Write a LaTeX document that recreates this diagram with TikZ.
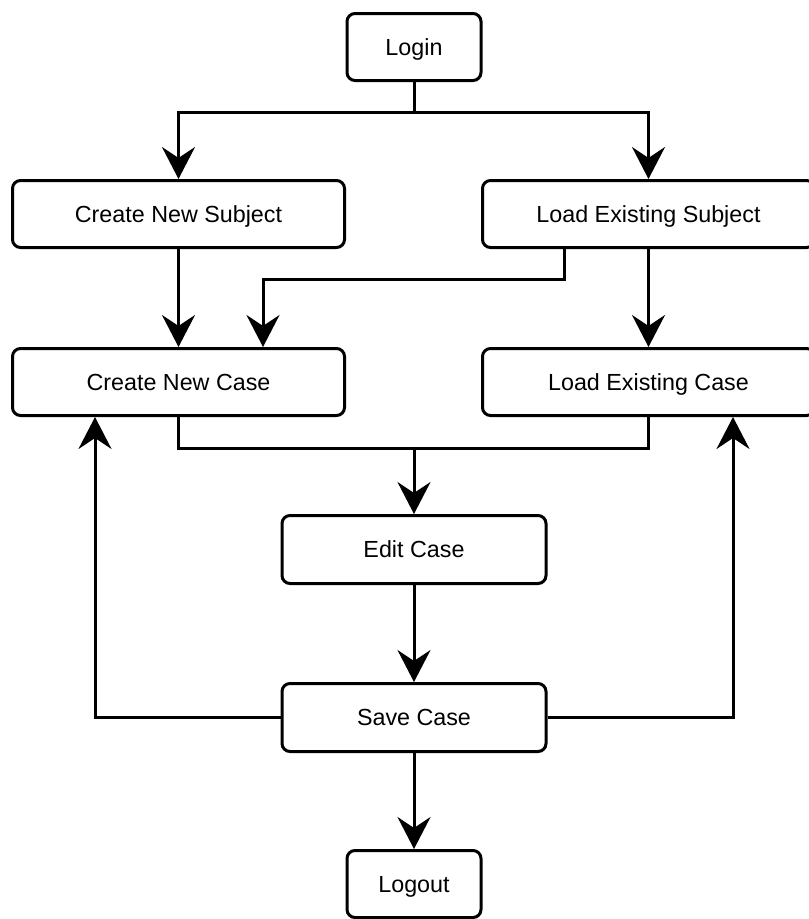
\documentclass[tikz,border=0pt]{standalone}
\usepackage{fontspec}
\setmainfont{Liberation Sans}
\usetikzlibrary{arrows.meta}
\begin{document}
\begin{tikzpicture}[x=1pt,y=-1pt,
  box/.style={draw=black, line width=3pt, rounded corners=8pt, rectangle,
    inner sep=0pt, text height=16.5pt, text depth=0pt,
    font=\fontsize{23.3}{28}\selectfont},
  wide/.style={box, minimum width=332pt, minimum height=67pt},
  mid/.style={box, minimum width=264pt, minimum height=68pt},
  small/.style={box, minimum width=134pt, minimum height=67pt},
  conn/.style={line width=3pt, line join=miter},
  arr/.style={conn, -{Stealth[length=32pt,width=33pt,inset=11pt]}}]
\useasboundingbox (0,0) rectangle (809,919);
\node[small] (login) at (414,47) {Login};
\node[wide] (cns) at (178.5,214) {Create New Subject};
\node[wide] (les) at (648.5,214) {Load Existing Subject};
\node[wide] (cnc) at (178.5,382) {Create New Case};
\node[wide] (lec) at (648.5,382) {Load Existing Case};
\node[mid] (edit) at (414,549.5) {Edit Case};
\node[mid] (save) at (414,717.5) {Save Case};
\node[small] (logout) at (414,884) {Logout};
\coordinate (j1) at (414,112);
\coordinate (b1) at (564,279);
\coordinate (b2) at (263,279);
\coordinate (m) at (414,448);
\coordinate (lx) at (95,717.5);
\coordinate (rx) at (733,717.5);
\draw[arr] (login.south) -- (j1) -| (cns.north);
\draw[arr] (j1) -| (les.north);
\draw[arr] (cns.south) -- (cnc.north);
\draw[arr] (les.south) -- (lec.north);
\draw[arr] (les.south -| b1) -- (b1) -- (b2) -- (b2 |- cnc.north);
\draw[conn] (cnc.south) |- (m) -| (lec.south);
\draw[arr] (m) -- (edit.north);
\draw[arr] (edit.south) -- (save.north);
\draw[arr] (save.west) -- (lx) -- (lx |- cnc.south);
\draw[arr] (save.east) -- (rx) -- (rx |- lec.south);
\draw[arr] (save.south) -- (logout.north);
\end{tikzpicture}
\end{document}
